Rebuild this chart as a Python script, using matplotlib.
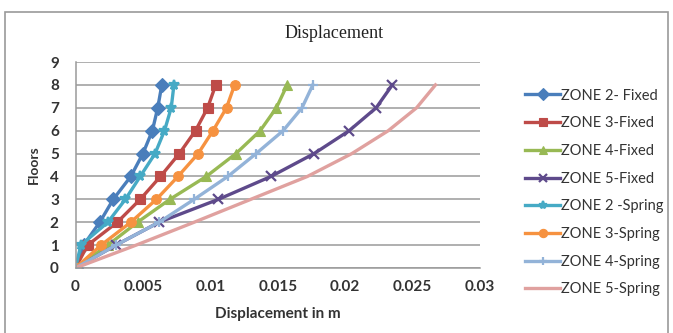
import numpy as np
import matplotlib.pyplot as plt
from matplotlib.patches import Rectangle

# storey numbers and lateral displacement (m) per case
floors = [0, 1, 2, 3, 4, 5, 6, 7, 8]
zone2_fixed = [0, 0.0006, 0.0018, 0.0028, 0.0041, 0.0050, 0.0057, 0.0061, 0.0064]
zone3_fixed = [0, 0.0009, 0.0031, 0.0048, 0.0063, 0.0077, 0.0089, 0.0098, 0.0104]
zone4_fixed = [0, 0.0024, 0.0046, 0.0070, 0.0097, 0.0119, 0.0137, 0.0149, 0.0157]
zone5_fixed = [0, 0.0030, 0.0062, 0.0106, 0.0145, 0.0177, 0.0203, 0.0223, 0.0235]
zone2_spring = [0, 0.0004, 0.0024, 0.0037, 0.0048, 0.0059, 0.0066, 0.0071, 0.0073]
zone3_spring = [0, 0.0019, 0.0041, 0.0060, 0.0076, 0.0091, 0.0102, 0.0112, 0.0118]
zone4_spring = [0, 0.0030, 0.0062, 0.0088, 0.0113, 0.0134, 0.0154, 0.0168, 0.0176]
zone5_spring = [0, 0.0045, 0.0088, 0.0130, 0.0172, 0.0205, 0.0232, 0.0253, 0.0267]

series = [
    ("ZONE 2- Fixed", zone2_fixed, "#4A7EBB", "D"),
    ("ZONE 3-Fixed", zone3_fixed, "#BE4B48", "s"),
    ("ZONE 4-Fixed", zone4_fixed, "#98B954", "^"),
    ("ZONE 5-Fixed", zone5_fixed, "#5E4A8B", "x"),
    ("ZONE 2 -Spring", zone2_spring, "#46AAC5", "*"),
    ("ZONE 3-Spring", zone3_spring, "#F69240", "o"),
    ("ZONE 4-Spring", zone4_spring, "#93B3D8", "+"),
    ("ZONE 5-Spring", zone5_spring, "#E0A19F", None),
]

fig = plt.figure(figsize=(6.73, 3.33), dpi=100)
fig.patches.append(Rectangle((0.008, -0.01), 0.985, 0.975, transform=fig.transFigure,
                             fill=False, edgecolor="#9a9a9a", linewidth=1.2))

ax = fig.add_axes([0.1122, 0.1952, 0.601, 0.6186])

for name, vals, col, mk in series:
    ax.plot(vals, floors, color=col, linewidth=2.4, marker=mk, markersize=7,
            markeredgewidth=1.6 if mk in ("x", "+", "*") else 0.8,
            markeredgecolor=col, label=name)

ax.set_xlim(0, 0.03)
ax.set_ylim(0, 9)
ax.set_xticks([0, 0.005, 0.01, 0.015, 0.02, 0.025, 0.03])
ax.set_xticklabels(["0", "0.005", "0.01", "0.015", "0.02", "0.025", "0.03"])
ax.set_yticks(range(10))
ax.grid(axis="y", color="#9a9a9a", linewidth=1.1)
ax.set_axisbelow(True)
for s in ("top", "right"):
    ax.spines[s].set_visible(False)
ax.spines["left"].set_color("#9a9a9a")
ax.spines["bottom"].set_color("#9a9a9a")
ax.spines["left"].set_linewidth(1.1)
ax.spines["bottom"].set_linewidth(1.1)
ax.tick_params(axis="x", length=0, labelsize=11, labelcolor="#333333", pad=9)
ax.tick_params(axis="y", length=0, labelsize=11, labelcolor="#333333", pad=12)
for t in ax.get_xticklabels() + ax.get_yticklabels():
    t.set_fontfamily("Lato")
    t.set_fontweight("bold")

ax.set_xlabel("Displacement in m", fontfamily="Lato", fontweight="bold",
              fontsize=11, color="#333333", labelpad=9)
ax.set_ylabel("Floors", fontfamily="Lato", fontweight="bold",
              fontsize=10, color="#333333", labelpad=7)

fig.text(0.496, 0.9, "Displacement", ha="center", va="center",
         fontfamily="Liberation Serif", fontsize=13, color="#222222")

leg = ax.legend(loc="upper left", bbox_to_anchor=(1.08, 0.935), frameon=False,
                prop={"family": "Lato", "size": 10.5}, labelspacing=0.94,
                handlelength=2.4, handletextpad=0.05, markerscale=0.85)
for t in leg.get_texts():
    t.set_color("#333333")

fig.savefig("out.png", dpi=100)
